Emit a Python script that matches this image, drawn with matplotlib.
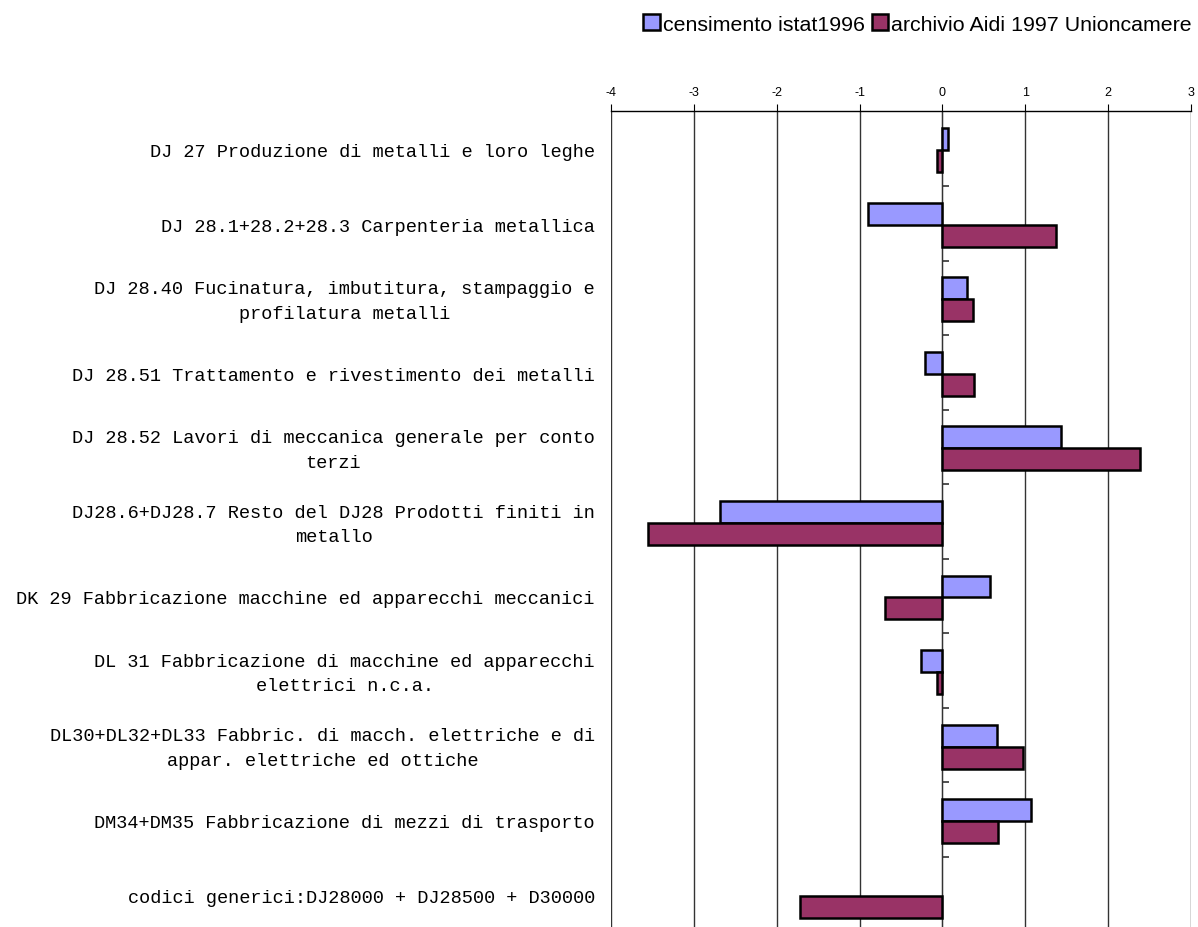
import numpy as np
import matplotlib
matplotlib.use('Agg')
import matplotlib.pyplot as plt
from matplotlib.patches import Patch

categories = [
    "DJ 27 Produzione di metalli e loro leghe",
    "DJ 28.1+28.2+28.3 Carpenteria metallica",
    "DJ 28.40 Fucinatura, imbutitura, stampaggio e\nprofilatura metalli",
    "DJ 28.51 Trattamento e rivestimento dei metalli",
    "DJ 28.52 Lavori di meccanica generale per conto\nterzi",
    "DJ28.6+DJ28.7 Resto del DJ28 Prodotti finiti in\nmetallo",
    "DK 29 Fabbricazione macchine ed apparecchi meccanici",
    "DL 31 Fabbricazione di macchine ed apparecchi\nelettrici n.c.a.",
    "DL30+DL32+DL33 Fabbric. di macch. elettriche e di\nappar. elettriche ed ottiche",
    "DM34+DM35 Fabbricazione di mezzi di trasporto",
    "codici generici:DJ28000 + DJ28500 + D30000",
]
# last category has no istat value
istat_1996 = [0.07, -0.90, 0.30, -0.21, 1.43, -2.69, 0.57, -0.26, 0.66, 1.07, np.nan]
aidi_1997 = [-0.065, 1.37, 0.37, 0.38, 2.39, -3.55, -0.69, -0.07, 0.97, 0.67, -1.72]
series_names = ["censimento istat1996", "archivio Aidi 1997 Unioncamere"]
xticks = [-4, -3, -2, -1, 0, 1, 2, 3]

blue = '#9999FF'
red = '#993366'

fig = plt.figure(figsize=(11.98, 9.28), dpi=100)
ax = fig.add_axes([0.51, -0.0048, 0.4841, 0.8836])

y = np.arange(len(categories))
h = 0.295
ax.barh(y - h / 2 + 0.02, istat_1996, height=h, color=blue, edgecolor='black', linewidth=1.8, zorder=3)
ax.barh(y + h / 2 + 0.02, aidi_1997, height=h, color=red, edgecolor='black', linewidth=1.8, zorder=3)

ax.set_xlim(-4, 3)
ax.set_ylim(len(categories) - 0.5, -0.5)

# x axis on top
ax.xaxis.tick_top()
ax.set_xticks(xticks)
ax.set_xticklabels([str(t) for t in xticks], fontsize=9, family='Liberation Sans')
ax.tick_params(axis='x', direction='out', length=5, width=0.8, color='black', pad=5)
ax.grid(axis='x', color='#333333', linewidth=1.0, zorder=0)

for s in ['left', 'right', 'bottom']:
    ax.spines[s].set_visible(False)
ax.spines['top'].set_linewidth(1.0)

# category labels
ax.set_yticks([])
for yi, lab in zip(y, categories):
    ax.text(-0.0276, yi + 0.04, lab, transform=ax.get_yaxis_transform(), ha='right', va='center',
            multialignment='center', family='Liberation Mono', fontsize=13.4, linespacing=1.6)

# small tick marks on the zero line between categories
sec = ax.secondary_yaxis(4 / 7)
sec.set_yticks(np.arange(0.5, len(categories) - 0.5, 1.0))
sec.set_yticklabels([])
sec.tick_params(direction='out', length=5, width=1.2, color='#333333')
sec.spines['left'].set_visible(False)

handles = [Patch(facecolor=blue, edgecolor='black', linewidth=1.8),
           Patch(facecolor=red, edgecolor='black', linewidth=1.8)]
fig.legend(handles, series_names, loc='upper right', bbox_to_anchor=(1.004, 0.995), ncol=2, frameon=False,
           prop={'family': 'Liberation Sans', 'size': 15.4}, handlelength=0.75, handleheight=0.75,
           handletextpad=0.15, columnspacing=0.35, borderaxespad=0.1)

fig.savefig('out.png', dpi=100)
